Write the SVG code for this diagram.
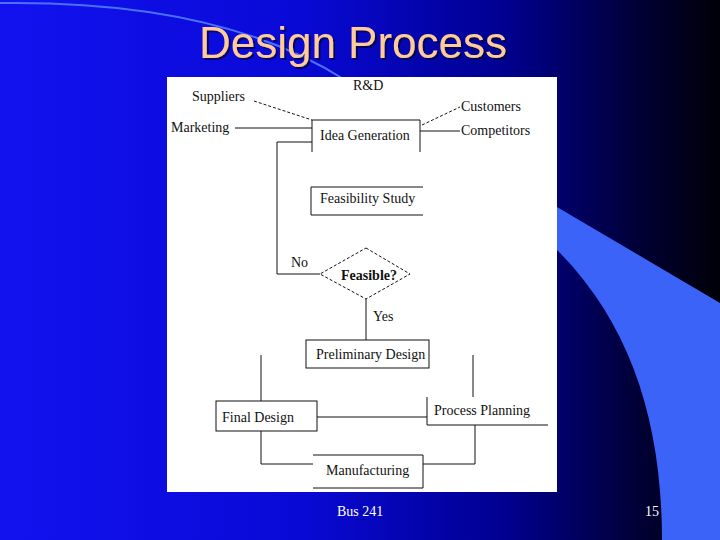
<svg xmlns="http://www.w3.org/2000/svg" width="720" height="540" viewBox="0 0 720 540">
<defs>
<linearGradient id="bg" x1="0" y1="0" x2="1" y2="0">
<stop offset="0" stop-color="#1212f0"/>
<stop offset="0.42" stop-color="#0909d6"/>
<stop offset="0.7" stop-color="#000090"/>
<stop offset="0.9" stop-color="#000030"/>
<stop offset="1" stop-color="#000008"/>
</linearGradient>
<filter id="shadow" x="-10%" y="-30%" width="120%" height="160%">
<feDropShadow dx="2" dy="2" stdDeviation="0.6" flood-color="#000030" flood-opacity="0.7"/>
</filter>
<style>
.t{font-family:"Liberation Serif","Times New Roman",serif;font-size:14px;fill:#111}
.ln{stroke:#111;stroke-width:1;fill:none}
.ds{stroke:#111;stroke-width:1;fill:none;stroke-dasharray:3,2}
.ft{font-family:"Liberation Serif","Times New Roman",serif;font-size:14px;fill:#fff}
</style>
</defs>
<rect x="0" y="0" width="720" height="540" fill="url(#bg)"/>
<path d="M0,3 Q220,0 345,80" fill="none" stroke="#4a70ff" stroke-width="2"/>
<path d="M540,197 L720,303 L720,540 L662,540 C662,420 630,320 552,245 Z" fill="#3b63f7"/>
<text x="353" y="58" text-anchor="middle" font-family="Liberation Sans, Arial, sans-serif" font-size="44" fill="#ffcc99" filter="url(#shadow)">Design Process</text>
<rect x="167" y="77" width="390" height="415" fill="#ffffff"/>

<g id="connectors">
<path class="ds" d="M254,101 L312,120"/>
<path class="ln" d="M235,128 L312,128"/>
<path class="ds" d="M422,125 L460,107"/>
<path class="ln" d="M420,131 L460,131"/>
<path class="ln" d="M312,142 L277,142 L277,274 L320,274"/>
<path class="ln" d="M366,299 L366,340"/>
<path class="ln" d="M261,355 L261,401"/>
<path class="ln" d="M473,355 L473,397"/>
<path class="ln" d="M317,417 L427,417"/>
<path class="ln" d="M261,431 L261,464 L313,464"/>
<path class="ln" d="M423,464 L475,464 L475,425"/>
</g>

<g id="rd"><text class="t" x="353" y="90">R&amp;D</text></g>
<g id="suppliers"><text class="t" x="192" y="101">Suppliers</text></g>
<g id="customers"><text class="t" x="461" y="111">Customers</text></g>
<g id="marketing"><text class="t" x="171" y="132">Marketing</text></g>
<g id="competitors"><text class="t" x="461" y="135">Competitors</text></g>

<g id="idea-generation">
<path class="ln" d="M312,152 L312,120 L420,120 L420,152"/>
<text class="t" x="320" y="140">Idea Generation</text>
</g>

<g id="feasibility-study">
<path class="ln" d="M423,187 L311,187 L311,215 L423,215"/>
<text class="t" x="320" y="203">Feasibility Study</text>
</g>

<g id="feasible">
<path class="ds" d="M366,248 L410,274 L366,299 L320,274 Z"/>
<text class="t" x="341" y="280" font-weight="bold">Feasible?</text>
<text class="t" x="291" y="267">No</text>
<text class="t" x="373" y="321">Yes</text>
</g>

<g id="preliminary-design">
<rect class="ln" x="306" y="340" width="123" height="28"/>
<text class="t" x="316" y="359">Preliminary Design</text>
</g>

<g id="final-design">
<rect class="ln" x="216" y="401" width="101" height="30"/>
<text class="t" x="222" y="422">Final Design</text>
</g>

<g id="process-planning">
<path class="ln" d="M427,397 L427,425 L548,425"/>
<text class="t" x="434" y="415">Process Planning</text>
</g>

<g id="manufacturing">
<path class="ln" d="M313,455 L423,455 L423,488 L313,488"/>
<text class="t" x="326" y="475">Manufacturing</text>
</g>

<text class="ft" x="337" y="516">Bus 241</text>
<text class="ft" x="645" y="516">15</text>
</svg>
